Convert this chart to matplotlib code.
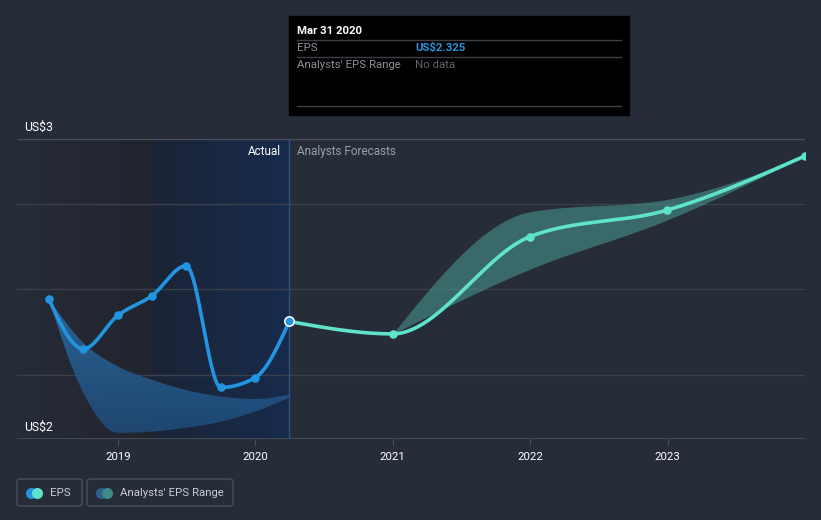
"""EPS history and analyst forecasts, dark card style."""

import matplotlib

matplotlib.use("Agg")

import matplotlib.pyplot as plt
import numpy as np
from matplotlib.colors import LinearSegmentedColormap
from matplotlib.patches import FancyBboxPatch, Rectangle

plt.rcParams["font.family"] = ["Roboto", "DejaVu Sans"]

# data (decimal years, US$)
actual_t = [2018.496, 2018.748, 2018.999, 2019.247, 2019.496, 2019.748, 2019.999, 2020.247]
actual_eps = [2.378, 2.261, 2.339, 2.385, 2.455, 2.171, 2.194, 2.325]
past_low = [2.378, 2.158, 2.065, 2.068, 2.077, 2.091, 2.115, 2.147]
past_high = [2.378, 2.275, 2.220, 2.189, 2.165, 2.150, 2.144, 2.154]

fc_t = [2020.247, 2020.999, 2021.999, 2022.999, 2023.999]
fc_eps = [2.325, 2.296, 2.523, 2.585, 2.711]
rng_t = [2020.999, 2021.999, 2022.999, 2023.999]
rng_low = [2.296, 2.447, 2.562, 2.711]
rng_high = [2.296, 2.581, 2.610, 2.711]

years = [2019, 2020, 2021, 2022, 2023]
grid_vals = [2.2, 2.4, 2.6]

BG = "#262c38"
EPS_BLUE = "#2394df"
FC_TEAL = "#5fe3cb"
W, H = 821, 520
FS = 8.2


def monotone(x, y, n=60):
    """d3-style monotone cubic through the points."""
    x = np.asarray(x, float)
    y = np.asarray(y, float)
    h = np.diff(x)
    d = np.diff(y) / h
    m = np.zeros_like(y)
    for k in range(1, len(y) - 1):
        s0, s1 = d[k - 1], d[k]
        p = (s0 * h[k] + s1 * h[k - 1]) / (h[k - 1] + h[k])
        m[k] = (np.sign(s0) + np.sign(s1)) * min(abs(s0), abs(s1), 0.5 * abs(p))
    m[0] = (3 * d[0] - m[1]) / 2 if len(y) > 2 else d[0]
    m[-1] = (3 * d[-1] - m[-2]) / 2 if len(y) > 2 else d[-1]
    xs, ys = [], []
    for k in range(len(h)):
        s = np.linspace(0, 1, n)
        h00 = 2 * s**3 - 3 * s**2 + 1
        h10 = s**3 - 2 * s**2 + s
        h01 = -2 * s**3 + 3 * s**2
        h11 = s**3 - s**2
        xs.append(x[k] + s * h[k])
        ys.append(h00 * y[k] + h10 * h[k] * m[k] + h01 * y[k + 1] + h11 * h[k] * m[k + 1])
    return np.concatenate(xs), np.concatenate(ys)


fig = plt.figure(figsize=(W / 100, H / 100), dpi=100)
fig.patch.set_facecolor(BG)

x0, x1 = 17, 805
y_top, y_bot = 139.3, 439.3
XL = (2018.265, 2024.0)
YL = (2.05, 2.75)
ax = fig.add_axes([x0 / W, 1 - y_bot / H, (x1 - x0) / W, (y_bot - y_top) / H])
ax.set_facecolor(BG)
for s in ax.spines.values():
    s.set_visible(False)

# shaded past regions
split = actual_t[3]
now = actual_t[-1]
grad1 = LinearSegmentedColormap.from_list("g1", [BG, "#20242d"])
grad2 = LinearSegmentedColormap.from_list("g2", ["#1b2436", "#182b4c"])
ax.imshow(np.linspace(0, 1, 64)[None, :], cmap=grad1, aspect="auto",
          extent=[XL[0], split, YL[0], YL[1]], zorder=0)
ax.imshow(np.linspace(0, 1, 64)[None, :], cmap=grad2, aspect="auto",
          extent=[split, now, YL[0], YL[1]], zorder=0)

for v in grid_vals:
    ax.axhline(v, color="#3a404c", lw=1, zorder=1)
ax.axhline(YL[1], color="#4a505c", lw=1, zorder=1)
ax.axhline(YL[0], color="#4a505c", lw=1.2, zorder=1)
ax.axvline(now, color="#2b4f85", lw=1, zorder=2)

# past analyst range (blue gradient clipped to band)
bx, blo = monotone(actual_t, past_low)
_, bhi = monotone(actual_t, past_high)
poly = ax.fill_between(bx, blo, bhi, color="none", lw=0)
band_cmap = LinearSegmentedColormap.from_list("b", ["#1f4d7c", "#2d6ea6"])
img = ax.imshow(np.linspace(0, 1, 64)[:, None], cmap=band_cmap, aspect="auto",
                origin="lower", extent=[actual_t[0], now, 2.06, 2.38],
                alpha=0.85, zorder=3)
img.set_clip_path(poly.get_paths()[0], transform=ax.transData)

# forecast range
rx, rlo = monotone(rng_t, rng_low)
_, rhi = monotone(rng_t, rng_high)
ax.fill_between(rx, rlo, rhi, color="#4a9c92", alpha=0.55, lw=0, zorder=3)

# lines
ex, ey = monotone(actual_t, actual_eps)
ax.plot(ex, ey, color=EPS_BLUE, lw=2.6, zorder=5, solid_capstyle="round")
ax.scatter(actual_t[:-1], actual_eps[:-1], s=38, color=EPS_BLUE, zorder=6, lw=0)
fx, fy = monotone(fc_t, fc_eps)
ax.plot(fx, fy, color=FC_TEAL, lw=2.6, zorder=5)
ax.scatter(fc_t[1:], fc_eps[1:], s=38, color=FC_TEAL, zorder=6, lw=0)
ax.scatter([actual_t[-1]], [actual_eps[-1]], s=46, color=EPS_BLUE,
           edgecolor="white", lw=1.1, zorder=7)

ax.set_xlim(*XL)
ax.set_ylim(*YL)
ax.set_yticks([])
ax.set_xticks(years)
ax.set_xticklabels([str(y) for y in years], color="white", fontsize=FS)
ax.tick_params(axis="x", length=4, color="#4a505c", pad=5)


def ftext(x, y, s, **kw):
    fig.text(x / W, 1 - y / H, s, **kw)


ftext(24, 127, "US$3", color="white", fontsize=8.8, va="center")
ftext(24, 427, "US$2", color="white", fontsize=8.8, va="center")
ftext(281, 151, "Actual", color="white", fontsize=FS + 0.3, va="center", ha="right")
ftext(297, 151, "Analysts Forecasts", color="#9aa0aa", fontsize=FS + 0.3, va="center")

# tooltip
fig.patches.append(Rectangle((289 / W, 1 - 115 / H), 340 / W, 99 / H,
                             transform=fig.transFigure, color="black", zorder=3))
for yy in (40, 57, 106):
    fig.add_artist(plt.Line2D([297 / W, 621 / W], [1 - yy / H] * 2,
                              color="#3c3f45", lw=1, transform=fig.transFigure, zorder=4))
ftext(297, 31, "Mar 31 2020", color="white", fontsize=FS, fontweight="bold", va="center", zorder=5)
ftext(297, 48, "EPS", color="#8a8f98", fontsize=FS, va="center", zorder=5)
ftext(415, 48, "US$2.325", color=EPS_BLUE, fontsize=FS, fontweight="bold", va="center", zorder=5)
ftext(297, 65, "Analysts' EPS Range", color="#8a8f98", fontsize=FS, va="center", zorder=5)
ftext(415, 65, "No data", color="#5f646c", fontsize=FS, va="center", zorder=5)

# legend
legend_items = [
    (17, 65, "EPS", EPS_BLUE, FC_TEAL),
    (87, 146, "Analysts' EPS Range", "#2b6190", "#3d8a86"),
]
for lx, lw_, label, c1, c2 in legend_items:
    fig.patches.append(FancyBboxPatch((lx / W, 1 - 506 / H), lw_ / W, 27 / H,
                                      boxstyle="round,pad=0,rounding_size=0.004",
                                      transform=fig.transFigure, facecolor="none",
                                      edgecolor="#4a505c", lw=1))
    fig.add_artist(plt.Line2D([(lx + 14) / W], [1 - 492.5 / H], marker="o", ms=8,
                              color=c1, mew=0, transform=fig.transFigure))
    fig.add_artist(plt.Line2D([(lx + 20) / W], [1 - 492.5 / H], marker="o", ms=8,
                              color=c2, mew=0, transform=fig.transFigure))
    ftext(lx + 33, 492.5, label, color="#c8ccd2", fontsize=FS, va="center")

fig.savefig("out.png", dpi=100, facecolor=BG)
plt.close(fig)
